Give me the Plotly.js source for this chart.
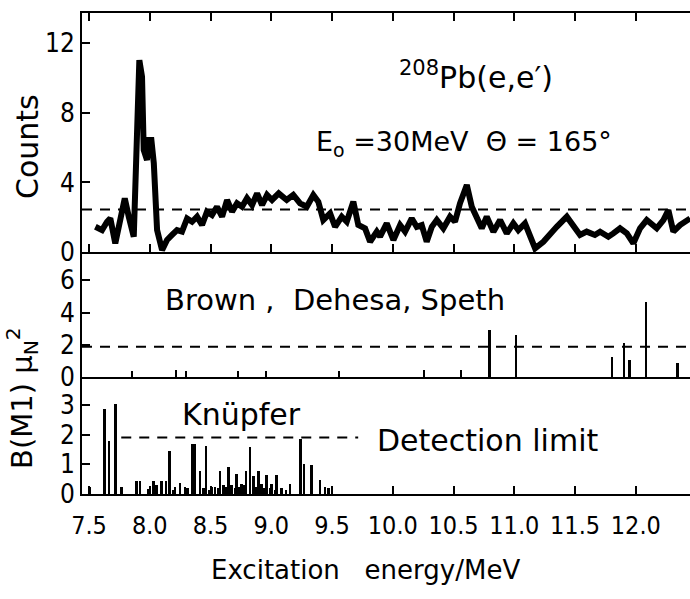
<!DOCTYPE html>
<html>
<head>
<meta charset="utf-8">
<script src="https://cdn.plot.ly/plotly-3.0.1.min.js"></script>
<style>html,body{margin:0;padding:0;background:#fff;}#chart{width:690px;height:599px;}</style>
</head>
<body>
<div id="chart"></div>
<script>
// Top panel: 208Pb(e,e') spectrum (Counts vs excitation energy, MeV)
var specE = [7.552, 7.607, 7.648, 7.675, 7.716, 7.758, 7.794, 7.827, 7.868,
  7.914, 7.936, 7.950, 7.977, 7.991, 8.013, 8.033, 8.046, 8.060, 8.101,
  8.142, 8.183, 8.224, 8.265, 8.307, 8.348, 8.389, 8.430, 8.471, 8.512,
  8.553, 8.595, 8.636, 8.677, 8.718, 8.759, 8.800, 8.842, 8.883, 8.924,
  8.965, 9.006, 9.061, 9.127, 9.181, 9.237, 9.292, 9.346, 9.387, 9.428,
  9.484, 9.525, 9.580, 9.621, 9.675, 9.716, 9.772, 9.813, 9.868, 9.895,
  9.950, 10.005, 10.060, 10.101, 10.156, 10.197, 10.238, 10.279, 10.321, 10.362,
  10.416, 10.471, 10.512, 10.553, 10.609, 10.650, 10.691, 10.732, 10.773, 10.828,
  10.883, 10.938, 10.992, 11.033, 11.088, 11.171, 11.239, 11.294, 11.349, 11.432,
  11.486, 11.541, 11.596, 11.663, 11.706, 11.774, 11.815, 11.870, 11.926, 11.980,
  12.035, 12.090, 12.172, 12.227, 12.268, 12.309, 12.364, 12.447];
var specCounts = [1.45, 1.26, 1.74, 1.93, 0.50, 2.03, 3.08, 2.03, 0.88,
  11.03, 10.07, 5.86, 5.29, 6.44, 6.44, 5.10, 2.03, 1.26, 0.11,
  0.69, 0.98, 1.26, 1.17, 1.93, 1.74, 2.03, 1.55, 2.32, 2.13,
  2.60, 2.03, 2.99, 2.32, 2.80, 2.60, 3.09, 2.70, 3.37, 2.70,
  3.28, 2.99, 3.37, 2.99, 3.28, 2.80, 2.60, 3.28, 2.89, 1.84,
  2.22, 1.45, 2.03, 1.74, 2.89, 1.55, 1.36, 0.59, 1.17, 0.88,
  1.65, 0.69, 1.55, 1.17, 1.93, 1.45, 1.55, 0.59, 1.45, 1.84,
  1.36, 2.03, 1.74, 2.80, 3.85, 2.60, 2.03, 1.36, 2.03, 1.17,
  1.84, 1.07, 1.65, 1.26, 1.65, 0.21, 0.59, 1.07, 1.45, 2.03,
  1.45, 0.98, 1.17, 0.98, 1.17, 0.88, 1.07, 1.36, 1.07, 0.50,
  1.36, 1.84, 1.36, 1.84, 2.41, 1.17, 1.55, 1.93];
var countsLimit = 2.45;

// Middle panel: Brown, Dehesa, Speth B(M1)
var bdsE = [7.854, 8.216, 8.298, 8.726, 8.957, 9.558, 10.257, 10.562, 10.795, 11.012, 11.802, 11.903, 11.947, 12.084, 12.342];
var bdsB = [0.35, 0.45, 0.40, 0.35, 0.35, 0.40, 0.45, 0.45, 2.90, 2.60, 1.26, 2.13, 1.06, 4.68, 0.85];
var bdsLimit = 1.88;

// Bottom panel: Knüpfer B(M1)
var knE = [7.508, 7.629, 7.665, 7.716, 7.769, 7.893, 7.920, 7.988, 8.029, 8.057,
  8.098, 8.134, 8.161, 8.190, 8.208, 8.249, 8.290, 8.310, 8.353, 8.372,
  8.414, 8.440, 8.463, 8.490, 8.510, 8.537, 8.560, 8.578, 8.605, 8.630,
  8.647, 8.674, 8.700, 8.716, 8.740, 8.757, 8.780, 8.792, 8.825, 8.852,
  8.870, 8.893, 8.921, 8.940, 8.963, 8.990, 9.004, 9.030, 9.045, 9.086,
  9.120, 9.154, 9.241, 9.270, 9.333, 9.401, 9.442, 9.470];
var knB = [0.23, 2.87, 1.80, 3.03, 0.23, 0.43, 0.43, 0.17, 0.43, 0.30,
  0.43, 0.43, 1.45, 0.15, 0.23, 0.37, 0.25, 0.20, 1.68, 1.68,
  0.78, 0.20, 1.62, 0.15, 0.23, 0.25, 0.20, 0.78, 0.30, 0.25,
  0.92, 0.30, 0.20, 0.68, 0.25, 0.35, 0.30, 0.76, 1.58, 0.60,
  0.25, 0.78, 0.35, 0.20, 0.65, 0.20, 0.35, 0.15, 0.63, 0.20,
  0.15, 0.35, 1.85, 1.00, 0.98, 0.47, 0.25, 0.20];
var knLimit = 1.9;
var knLimitE = [7.765, 9.715];

var xTickVals = [7.5, 8.0, 8.5, 9.0, 9.5, 10.0, 10.5, 11.0, 11.5, 12.0];
var xTickText = ["7.5", "8.0", "8.5", "9.0", "9.5", "10.0", "10.5", "11.0", "11.5", "12.0"];
var xRange = [7.442, 12.446];

var TICKFONT = "DejaVu Sans Condensed, DejaVu Sans, sans-serif";
var TEXTFONT = "DejaVu Sans, sans-serif";
var dash = "10px,8px";

var traces = [
  {type: "scatter", mode: "lines", x: specE, y: specCounts, xaxis: "x3", yaxis: "y3",
   line: {color: "black", width: 6}, hoverinfo: "skip"},
  {type: "scatter", mode: "lines", x: xRange, y: [countsLimit, countsLimit], xaxis: "x3", yaxis: "y3",
   line: {color: "black", width: 2, dash: dash}, hoverinfo: "skip"},
  {type: "bar", x: bdsE, y: bdsB, xaxis: "x2", yaxis: "y2", width: 0.02,
   marker: {color: "black", line: {width: 0}}, hoverinfo: "skip"},
  {type: "scatter", mode: "lines", x: xRange, y: [bdsLimit, bdsLimit], xaxis: "x2", yaxis: "y2",
   line: {color: "black", width: 2, dash: dash}, hoverinfo: "skip"},
  {type: "bar", x: knE, y: knB, xaxis: "x", yaxis: "y", width: 0.022,
   marker: {color: "black", line: {width: 0}}, hoverinfo: "skip"},
  {type: "scatter", mode: "lines", x: knLimitE, y: [knLimit, knLimit], xaxis: "x", yaxis: "y",
   line: {color: "black", width: 2, dash: dash}, hoverinfo: "skip"}
];

function xa(extra) {
  var o = {range: xRange, showgrid: false, zeroline: false, showline: true, linecolor: "black", linewidth: 2,
    tickvals: xTickVals, ticktext: xTickText, ticks: "inside", ticklen: 8, tickwidth: 2, tickcolor: "black",
    tickfont: {family: TICKFONT, size: 25, color: "black"}, ticklabelstandoff: 8, fixedrange: true};
  for (var k in extra) o[k] = extra[k];
  return o;
}
function ya(extra) {
  var o = {showgrid: false, zeroline: false, showline: true, linecolor: "black", linewidth: 2,
    ticks: "inside", ticklen: 8, tickwidth: 2, tickcolor: "black",
    tickfont: {family: TICKFONT, size: 26, color: "black"}, fixedrange: true};
  for (var k in extra) o[k] = extra[k];
  return o;
}
function ann(text, px, py, size, extra) {
  var o = {text: text, x: (px - 82) / 608, y: (494 - py) / 481, xref: "paper", yref: "paper",
    showarrow: false, xanchor: "center", yanchor: "middle",
    font: {family: TEXTFONT, size: size, color: "black"}};
  for (var k in extra) o[k] = extra[k];
  return o;
}

var layout = {
  width: 690, height: 599,
  margin: {l: 82, r: 0, t: 13, b: 105},
  paper_bgcolor: "white", plot_bgcolor: "white",
  showlegend: false, bargap: 0,
  font: {family: TEXTFONT, color: "black"},
  xaxis: xa({anchor: "y"}),
  xaxis2: xa({anchor: "y2", matches: "x", ticks: "", showticklabels: false}),
  xaxis3: xa({anchor: "y3", matches: "x", mirror: "ticks", showticklabels: false}),
  yaxis: ya({domain: [0, 0.2432], range: [0, 3.94], tickvals: [0, 1, 2, 3]}),
  yaxis2: ya({domain: [0.2432, 0.5031], range: [0, 7.76], tickvals: [0, 2, 4, 6]}),
  yaxis3: ya({domain: [0.5031, 1], range: [0, 13.74], tickvals: [0, 4, 8, 12]}),
  annotations: [
    ann("Counts", 27, 147, 30, {textangle: -90}),
    ann("B(M1) \u03bc<sub>N</sub><sup>2</sup>", 22, 398, 29, {textangle: -90}),
    ann("<sup>208</sup>Pb(e,e\u2032)", 476, 76, 30),
    ann("E<sub>o</sub> =30MeV  \u0398 = 165\u00b0", 464, 143, 27),
    ann("Brown ,  Dehesa, Speth", 335, 300, 29),
    ann("Kn\u00fcpfer", 241, 414, 30),
    ann("Detection limit", 488, 440, 30),
    ann("Excitation   energy/MeV", 365, 570, 26)
  ]
};

Plotly.newPlot("chart", traces, layout, {staticPlot: true, displayModeBar: false});
</script>
</body>
</html>
